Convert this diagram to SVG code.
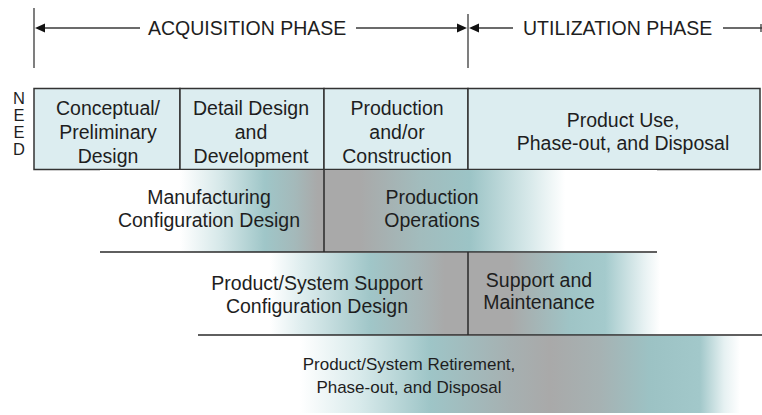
<svg xmlns="http://www.w3.org/2000/svg" width="762" height="415" viewBox="0 0 762 415">
  <style>
    .lbl { font-family: "Liberation Sans", Arial, sans-serif; font-size: 19.5px; fill: #1e1e1e; text-anchor: middle; }
    .lbl-sm { font-family: "Liberation Sans", Arial, sans-serif; font-size: 17px; fill: #1e1e1e; text-anchor: middle; }
    .phase { font-family: "Liberation Sans", Arial, sans-serif; font-size: 19.5px; fill: #1e1e1e; }
    .need { font-family: "Liberation Sans", Arial, sans-serif; font-size: 16.5px; fill: #1e1e1e; text-anchor: middle; }
    .stage { fill: #dcedf0; stroke: #333; stroke-width: 1.5; }
    .rule { stroke: #2a2a2a; stroke-width: 1.5; fill: none; }
    .conn { stroke: #3a3a3a; stroke-width: 1.3; fill: none; }
    .head { fill: #111; }
  </style>
  <defs>
    <linearGradient id="bandMfg" gradientUnits="userSpaceOnUse" x1="100" y1="0" x2="657" y2="0">
      <stop offset="0" stop-color="#ffffff"/>
      <stop offset="0.144" stop-color="#ffffff"/>
      <stop offset="0.216" stop-color="#d6e8e9"/>
      <stop offset="0.296" stop-color="#9fc6c8"/>
      <stop offset="0.350" stop-color="#a4b9ba"/>
      <stop offset="0.391" stop-color="#a9a9a9"/>
      <stop offset="0.467" stop-color="#a9a9a9"/>
      <stop offset="0.575" stop-color="#a2bcbd"/>
      <stop offset="0.664" stop-color="#9cc4c6"/>
      <stop offset="0.772" stop-color="#d8e9ea"/>
      <stop offset="0.835" stop-color="#ffffff"/>
      <stop offset="1" stop-color="#ffffff"/>
    </linearGradient>
    <linearGradient id="bandSup" gradientUnits="userSpaceOnUse" x1="100" y1="0" x2="762" y2="0">
      <stop offset="0" stop-color="#ffffff"/>
      <stop offset="0.257" stop-color="#ffffff"/>
      <stop offset="0.302" stop-color="#e0eeef"/>
      <stop offset="0.408" stop-color="#a0c6c8"/>
      <stop offset="0.483" stop-color="#a6b4b5"/>
      <stop offset="0.521" stop-color="#a9a9a9"/>
      <stop offset="0.619" stop-color="#a9a9a9"/>
      <stop offset="0.710" stop-color="#9fc4c6"/>
      <stop offset="0.763" stop-color="#a4cacc"/>
      <stop offset="0.823" stop-color="#e8f2f3"/>
      <stop offset="0.846" stop-color="#ffffff"/>
      <stop offset="1" stop-color="#ffffff"/>
    </linearGradient>
    <linearGradient id="bandRet" gradientUnits="userSpaceOnUse" x1="198" y1="0" x2="762" y2="0">
      <stop offset="0" stop-color="#ffffff"/>
      <stop offset="0.181" stop-color="#ffffff"/>
      <stop offset="0.287" stop-color="#d8eaeb"/>
      <stop offset="0.411" stop-color="#9ec5c7"/>
      <stop offset="0.553" stop-color="#a6b0b1"/>
      <stop offset="0.624" stop-color="#a9a9a9"/>
      <stop offset="0.713" stop-color="#a6b2b3"/>
      <stop offset="0.801" stop-color="#9cc2c4"/>
      <stop offset="0.890" stop-color="#a2c8ca"/>
      <stop offset="0.933" stop-color="#e6f1f2"/>
      <stop offset="0.961" stop-color="#ffffff"/>
      <stop offset="1" stop-color="#ffffff"/>
    </linearGradient>
  </defs>

  <rect width="762" height="415" fill="#ffffff"/>

  <!-- phase header with boundary arrows -->
  <g id="connectors">
    <line class="conn" x1="34" y1="8" x2="34" y2="68"/>
    <line class="conn" x1="468" y1="14" x2="468" y2="68"/>
    <line class="conn" x1="42" y1="28" x2="140" y2="28"/>
    <polygon class="head" points="35,28 45,23.5 45,32.5"/>
    <line class="conn" x1="356" y1="28" x2="459" y2="28"/>
    <polygon class="head" points="467,28 457,23.5 457,32.5"/>
    <line class="conn" x1="477" y1="28" x2="513" y2="28"/>
    <polygon class="head" points="469,28 479,23.5 479,32.5"/>
    <line class="conn" x1="723" y1="28" x2="762" y2="28"/>
    <line class="conn" x1="761" y1="24" x2="761" y2="32"/>
  </g>

  <g id="acquisition-phase">
    <text class="phase" x="148" y="35">ACQUISITION PHASE</text>
  </g>
  <g id="utilization-phase">
    <text class="phase" x="523" y="35">UTILIZATION PHASE</text>
  </g>

  <g id="need">
    <text class="need" x="19" y="104">N</text>
    <text class="need" x="19" y="121">E</text>
    <text class="need" x="19" y="138">E</text>
    <text class="need" x="19" y="155">D</text>
  </g>

  <!-- life-cycle stages -->
  <g id="conceptual-design">
    <rect class="stage" x="34" y="88.5" width="146" height="81"/>
    <text class="lbl" x="108" y="115">Conceptual/</text>
    <text class="lbl" x="108" y="139">Preliminary</text>
    <text class="lbl" x="108" y="163">Design</text>
  </g>
  <g id="detail-design">
    <rect class="stage" x="180" y="88.5" width="144" height="81"/>
    <text class="lbl" x="251" y="115">Detail Design</text>
    <text class="lbl" x="251" y="139">and</text>
    <text class="lbl" x="251" y="163">Development</text>
  </g>
  <g id="production-construction">
    <rect class="stage" x="324" y="88.5" width="144" height="81"/>
    <text class="lbl" x="397" y="115">Production</text>
    <text class="lbl" x="397" y="139">and/or</text>
    <text class="lbl" x="397" y="163">Construction</text>
  </g>
  <g id="product-use">
    <rect class="stage" x="468" y="88.5" width="292" height="81"/>
    <text class="lbl" x="623" y="127">Product Use,</text>
    <text class="lbl" x="623" y="150">Phase-out, and Disposal</text>
  </g>

  <!-- manufacturing band -->
  <g id="manufacturing">
    <rect x="100" y="170" width="557" height="82" fill="url(#bandMfg)"/>
    <line class="rule" x1="324" y1="170" x2="324" y2="252"/>
    <line class="rule" x1="100" y1="252" x2="657" y2="252"/>
    <text class="lbl" x="209" y="204">Manufacturing</text>
    <text class="lbl" x="209" y="227">Configuration Design</text>
    <text class="lbl" x="432" y="204">Production</text>
    <text class="lbl" x="432" y="227">Operations</text>
  </g>

  <!-- support band -->
  <g id="support">
    <rect x="100" y="253" width="662" height="82" fill="url(#bandSup)"/>
    <line class="rule" x1="468" y1="252" x2="468" y2="335"/>
    <line class="rule" x1="198" y1="335" x2="762" y2="335"/>
    <text class="lbl" x="317" y="290">Product/System Support</text>
    <text class="lbl" x="317" y="313">Configuration Design</text>
    <text class="lbl" x="539" y="287">Support and</text>
    <text class="lbl" x="539" y="309">Maintenance</text>
  </g>

  <!-- retirement band -->
  <g id="retirement">
    <rect x="198" y="336" width="564" height="77" fill="url(#bandRet)"/>
    <text class="lbl-sm" x="409" y="370">Product/System Retirement,</text>
    <text class="lbl-sm" x="409" y="393">Phase-out, and Disposal</text>
  </g>
</svg>
